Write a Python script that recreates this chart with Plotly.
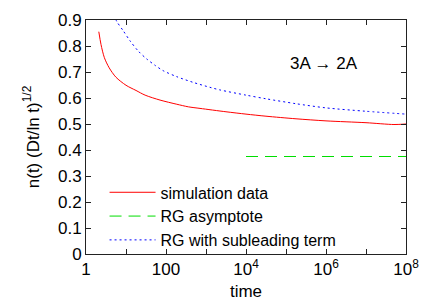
import plotly.graph_objects as go

# Simulation data (red)
sim_t = [2.09, 2.37, 2.88, 3.8, 5.6, 10, 17.8, 30, 71, 186, 363, 708, 3160, 1e4, 3.16e4, 1.78e5, 1e6, 1e7, 5e7, 1e8]
sim_n = [0.855, 0.806, 0.755, 0.716, 0.68, 0.649, 0.629, 0.611, 0.592, 0.576, 0.566, 0.56, 0.547, 0.538, 0.53, 0.52, 0.512, 0.505, 0.498, 0.50]

# RG asymptote (green)
asym_t = [1e4, 1e8]
asym_n = [0.375, 0.375]

# RG with subleading term (blue)
sub_t = [5, 5.9, 8.5, 12.6, 20.4, 33, 54, 85, 186, 479, 1259, 2239, 1e4, 3.16e4, 1.78e5, 1e6, 1e7, 1e8]
sub_n = [0.92, 0.894, 0.859, 0.82, 0.78, 0.75, 0.725, 0.705, 0.682, 0.66, 0.641, 0.631, 0.611, 0.597, 0.578, 0.562, 0.549, 0.538]

x_tickvals = [1, 100, 1e4, 1e6, 1e8]
x_ticktext = ["1", "100", "10<sup>4</sup>", "10<sup>6</sup>", "10<sup>8</sup>"]
y_tickvals = [0, 0.1, 0.2, 0.3, 0.4, 0.5, 0.6, 0.7, 0.8, 0.9]
y_ticktext = ["0", "0.1", "0.2", "0.3", "0.4", "0.5", "0.6", "0.7", "0.8", "0.9"]

FONT = "Liberation Sans, Arial, Helvetica, sans-serif"
FRAME = "#222222"

fig = go.Figure()
fig.add_trace(go.Scatter(x=sim_t, y=sim_n, mode="lines", name="simulation data",
                         line=dict(color="#ff0000", width=1, shape="spline", smoothing=0.8)))
fig.add_trace(go.Scatter(x=asym_t, y=asym_n, mode="lines", name="RG asymptote",
                         line=dict(color="#00dd00", width=1, dash="12px,7px")))
fig.add_trace(go.Scatter(x=sub_t, y=sub_n, mode="lines", name="RG with subleading term",
                         line=dict(color="#0000ff", width=1, dash="2px,3px", shape="spline", smoothing=0.8)))

axis_common = dict(showgrid=False, zeroline=False, showline=True, mirror="ticks",
                   linecolor=FRAME, linewidth=1, ticks="inside", ticklen=5, tickwidth=1,
                   tickcolor=FRAME, automargin=False,
                   tickfont=dict(family=FONT, size=17, color="black"))

fig.update_xaxes(type="log", range=[0, 8], tickvals=x_tickvals, ticktext=x_ticktext,
                 minor=dict(ticks="inside", ticklen=5, tickwidth=1, tickcolor=FRAME, dtick=1, showgrid=False),
                 title=dict(text="time", font=dict(family=FONT, size=17, color="black"), standoff=6),
                 **axis_common)
fig.update_yaxes(range=[0, 0.9], tickvals=y_tickvals, ticktext=y_ticktext,
                 title=dict(text="n(t) (Dt/ln t)<sup>1/2</sup>", font=dict(family=FONT, size=17, color="black"), standoff=14),
                 **axis_common)

fig.add_annotation(x=0.745, y=0.812, xref="paper", yref="paper", text="3A \u2192 2A",
                   xanchor="center", yanchor="middle",
                   showarrow=False, font=dict(family=FONT, size=17, color="black"))

fig.update_layout(
    width=428, height=297,
    margin=dict(l=78, r=30, t=12, b=51, autoexpand=False),
    paper_bgcolor="white", plot_bgcolor="white",
    showlegend=True,
    legend=dict(x=0.058, y=0.336, xanchor="left", yanchor="top", bgcolor="rgba(0,0,0,0)",
                font=dict(family=FONT, size=16, color="black"), itemwidth=46,
                tracegroupgap=0),
    font=dict(family=FONT, size=17, color="black"),
)

fig.write_html("out.html")
